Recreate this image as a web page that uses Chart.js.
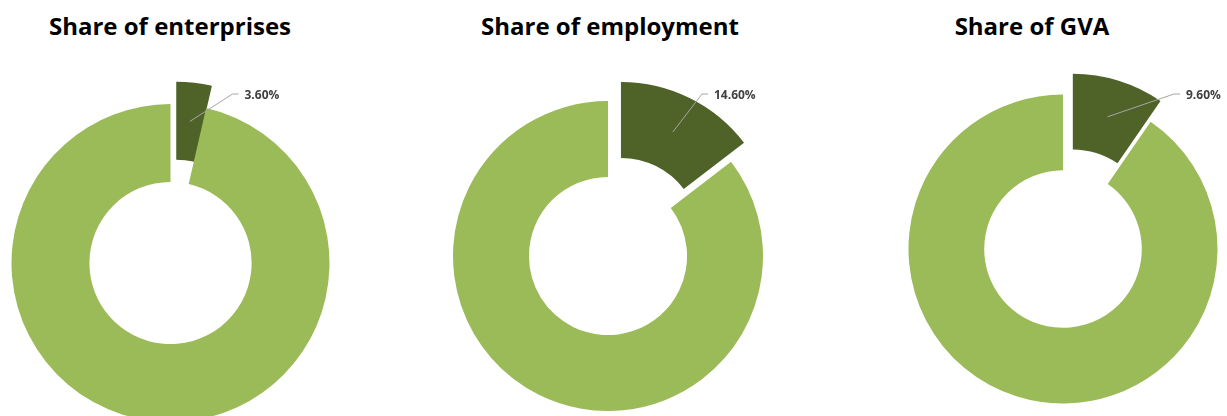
<!DOCTYPE html>
<html>
<head>
<meta charset="utf-8">
<script src="https://cdn.jsdelivr.net/npm/chart.js@4.4.0/dist/chart.umd.min.js"></script>
<style>
  html, body { margin: 0; padding: 0; background: #fff; overflow: hidden; }
  body { width: 1227px; height: 416px; position: relative; font-family: 'Open Sans', sans-serif; }
  .title { position: absolute; top: 14px; width: 340px; margin-left: -170px; text-align: center;
           font-weight: 700; font-size: 24px; line-height: 24px; color: #000; white-space: nowrap; }
  canvas { position: absolute; top: 0; }
</style>
</head>
<body>
<script>
// Sector shares (%) and the remainder of the economy
const titles = ['Share of enterprises', 'Share of employment', 'Share of GVA'];
const segments = ['Sector', 'Rest of economy'];
const sectorShare = [3.6, 14.6, 9.6];
const restShare = [96.4, 85.4, 90.4];

const colors = ['#4F6228', '#9BBB59'];

// where each ring sits on the page, plus the callout elbow relative to the ring centre
const layout = [
  { left: 0,   width: 410, cx: 170.5, cy: 263, r: 159,   titleX: 170,  label: [68, -169] },
  { left: 420, width: 410, cx: 608,   cy: 256, r: 155,   titleX: 610,  label: [100, -162] },
  { left: 850, width: 377, cx: 1063,  cy: 249, r: 154.5, titleX: 1032, label: [117, -155] }
];
const canvasHeight = 440;

// pull the first slice out of the ring
const explodePlugin = {
  id: 'explode',
  afterDatasetsUpdate(chart, args, opts) {
    const arc = chart.getDatasetMeta(0).data[0];
    const dir = (arc.startAngle + arc.endAngle) / 2 + opts.lean * Math.PI / 180;
    arc.x += Math.cos(dir) * opts.distance;
    arc.y += Math.sin(dir) * opts.distance;
  }
};

// leader line + percentage for the exploded slice
const calloutPlugin = {
  id: 'callout',
  afterDatasetsDraw(chart, args, opts) {
    const ctx = chart.ctx;
    const arc = chart.getDatasetMeta(0).data[0];
    const value = chart.data.datasets[0].data[0];
    const mid = (arc.startAngle + arc.endAngle) / 2;
    const rm = (arc.innerRadius + arc.outerRadius) / 2;
    const sx = arc.x + Math.cos(mid) * rm;
    const sy = arc.y + Math.sin(mid) * rm;
    const area = chart.chartArea;
    const ex = (area.left + area.right) / 2 + opts.dx;
    const ey = (area.top + area.bottom) / 2 + opts.dy;

    ctx.save();
    ctx.strokeStyle = '#A6A6A6';
    ctx.lineWidth = 1;
    ctx.beginPath();
    ctx.moveTo(sx, sy);
    ctx.lineTo(ex - 6, ey);
    ctx.lineTo(ex, ey);
    ctx.stroke();
    ctx.fillStyle = '#404040';
    ctx.font = "bold 12px 'Open Sans'";
    ctx.textBaseline = 'middle';
    ctx.textAlign = 'left';
    ctx.fillText(value.toFixed(2) + '%', ex + 6, ey + 2);
    ctx.restore();
  }
};

titles.forEach((title, i) => {
  const L = layout[i];

  const t = document.createElement('div');
  t.className = 'title';
  t.style.left = L.titleX + 'px';
  t.textContent = title;
  document.body.appendChild(t);

  const canvas = document.createElement('canvas');
  canvas.width = L.width;
  canvas.height = canvasHeight;
  canvas.style.left = L.left + 'px';
  canvas.style.width = L.width + 'px';
  canvas.style.height = canvasHeight + 'px';
  document.body.appendChild(canvas);

  new Chart(canvas.getContext('2d'), {
    type: 'doughnut',
    data: {
      labels: segments,
      datasets: [{
        data: [sectorShare[i], restShare[i]],
        backgroundColor: colors,
        borderWidth: 0,
        clip: false
      }]
    },
    options: {
      responsive: false,
      animation: false,
      events: [],
      cutout: '51%',
      layout: {
        padding: {
          left: L.cx - L.r - L.left,
          right: L.left + L.width - (L.cx + L.r),
          top: L.cy - L.r,
          bottom: canvasHeight - (L.cy + L.r)
        }
      },
      plugins: {
        legend: { display: false },
        tooltip: { enabled: false },
        explode: { distance: 23, lean: 8 },
        callout: { dx: L.label[0], dy: L.label[1] }
      }
    },
    plugins: [explodePlugin, calloutPlugin]
  });
});
</script>
</body>
</html>
